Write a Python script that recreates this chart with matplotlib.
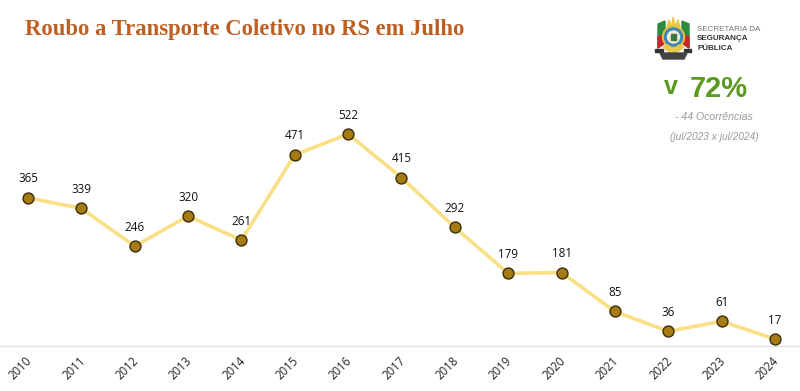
import matplotlib

matplotlib.use("Agg")

import matplotlib.pyplot as plt
from matplotlib.patches import Circle, Polygon, Rectangle
from matplotlib.transforms import ScaledTranslation

YEARS = [2010, 2011, 2012, 2013, 2014, 2015, 2016, 2017, 2018, 2019, 2020, 2021, 2022, 2023, 2024]
ROUBOS = [365, 339, 246, 320, 261, 471, 522, 415, 292, 179, 181, 85, 36, 61, 17]

W, H = 800, 391


def add_logo(fig):
    # simplified state crest, coordinates in figure pixels
    logo = fig.add_axes([0, 0, 1, 1], zorder=5)
    logo.set_xlim(0, W)
    logo.set_ylim(H, 0)
    logo.axis("off")
    logo.patch.set_alpha(0)
    logo.add_patch(Polygon([(658, 24), (665, 21), (665, 43), (658, 48)], color="#2E8B3E"))
    logo.add_patch(Polygon([(658, 37), (665, 34), (665, 43), (658, 48)], color="#C8262C"))
    logo.add_patch(Polygon([(689, 24), (682, 21), (682, 43), (689, 48)], color="#2E8B3E"))
    logo.add_patch(Polygon([(689, 37), (682, 34), (682, 43), (689, 48)], color="#C8262C"))
    logo.add_patch(Polygon([(667, 27), (669, 20), (672, 26)], color="#E8C94A"))
    logo.add_patch(Polygon([(672, 26), (673, 17), (675, 26)], color="#E8C94A"))
    logo.add_patch(Polygon([(675, 26), (678, 20), (680, 27)], color="#E8C94A"))
    logo.add_patch(Circle((673.5, 37), 11, color="#E3C33C"))
    logo.add_patch(Circle((673.5, 37), 9, color="#3E86B8"))
    logo.add_patch(Circle((673.5, 37), 6, color="#F0EDD8"))
    logo.add_patch(Rectangle((671, 34), 5, 6, color="#3C7A3C"))
    logo.add_patch(Polygon([(663, 47), (673, 55), (684, 47), (679, 45), (673, 50), (668, 45)], color="#E8C94A"))
    logo.add_patch(Rectangle((655, 49), 8, 3, color="#333333"))
    logo.add_patch(Rectangle((684, 49), 7, 3, color="#333333"))
    logo.add_patch(Polygon([(660, 53), (687, 53), (684, 59), (663, 59)], color="#444444"))


fig = plt.figure(figsize=(W / 100, H / 100), dpi=100)
fig.patch.set_facecolor("#FFFFFF")

x_step = (775 - 28) / (YEARS[-1] - YEARS[0])
px_per_unit = (339 - 134) / (ROUBOS[6] - ROUBOS[-1])

axis = fig.add_axes([0, (H - 346) / H, 1, 346 / H])
axis.set_xlim(YEARS[0] - 28 / x_step, YEARS[0] + (W - 28) / x_step)
axis.set_ylim(0, 346 / px_per_unit)
axis.patch.set_alpha(0)

axis.plot(YEARS, ROUBOS, color="#FADF85", linewidth=2.6, zorder=2, solid_joinstyle="round", clip_on=False)
axis.scatter(YEARS, ROUBOS, s=62, color="#A67C12", edgecolor="#3A2E0C", linewidth=1.0, zorder=3, clip_on=False)

for year, value in zip(YEARS, ROUBOS):
    axis.annotate(str(value), (year, value), xytext=(0, 9), textcoords="offset points", ha="center", va="bottom",
                  fontsize=8.4, color="#111111", family="Open Sans")

for side in ["top", "right", "left"]:
    axis.spines[side].set_visible(False)
axis.spines["bottom"].set_color("#E0E0E0")
axis.spines["bottom"].set_linewidth(1.0)
axis.set_yticks([])
axis.set_xticks(YEARS)
axis.tick_params(axis="x", length=0, pad=6)
nudge = ScaledTranslation(-2 / 72, 0, fig.dpi_scale_trans)
for label in axis.get_xticklabels():
    label.set_rotation(45)
    label.set_ha("right")
    label.set_va("top")
    label.set_rotation_mode("anchor")
    label.set_fontsize(8.3)
    label.set_family("Open Sans")
    label.set_color("#222222")
    label.set_transform(label.get_transform() + nudge)

fig.text(25 / W, 1 - 29 / H, "Roubo a Transporte Coletivo no RS em Julho", fontsize=16.3, fontweight="bold",
         family="Liberation Serif", color="#BE5F22", va="center", ha="left")

fig.text(697 / W, 1 - 29.5 / H, "SECRETARIA DA", fontsize=5.8, family="Liberation Sans", color="#777777", va="center")
fig.text(697 / W, 1 - 39 / H, "SEGURANÇA", fontsize=5.8, family="Liberation Sans", fontweight="bold",
         color="#333333", va="center")
fig.text(697 / W, 1 - 48 / H, "PÚBLICA", fontsize=5.8, family="Liberation Sans", fontweight="bold",
         color="#333333", va="center")

fig.text(671 / W, 1 - 87 / H, "v", fontsize=18, fontweight="bold", family="Liberation Sans", color="#5A9A1E",
         va="center", ha="center")
fig.text(719 / W, 1 - 89 / H, "72%", fontsize=21, fontweight="bold", family="Liberation Sans", color="#5A9A1E",
         va="center", ha="center")
fig.text(714 / W, 1 - 117 / H, "- 44 Ocorrências", fontsize=7.6, style="italic", family="Liberation Sans",
         color="#9A9A9A", va="center", ha="center")
fig.text(714 / W, 1 - 137 / H, "(jul/2023 x jul/2024)", fontsize=7.3, style="italic", family="Liberation Sans",
         color="#9A9A9A", va="center", ha="center")

add_logo(fig)

plt.savefig("out.png", dpi=100)
plt.close(fig)
